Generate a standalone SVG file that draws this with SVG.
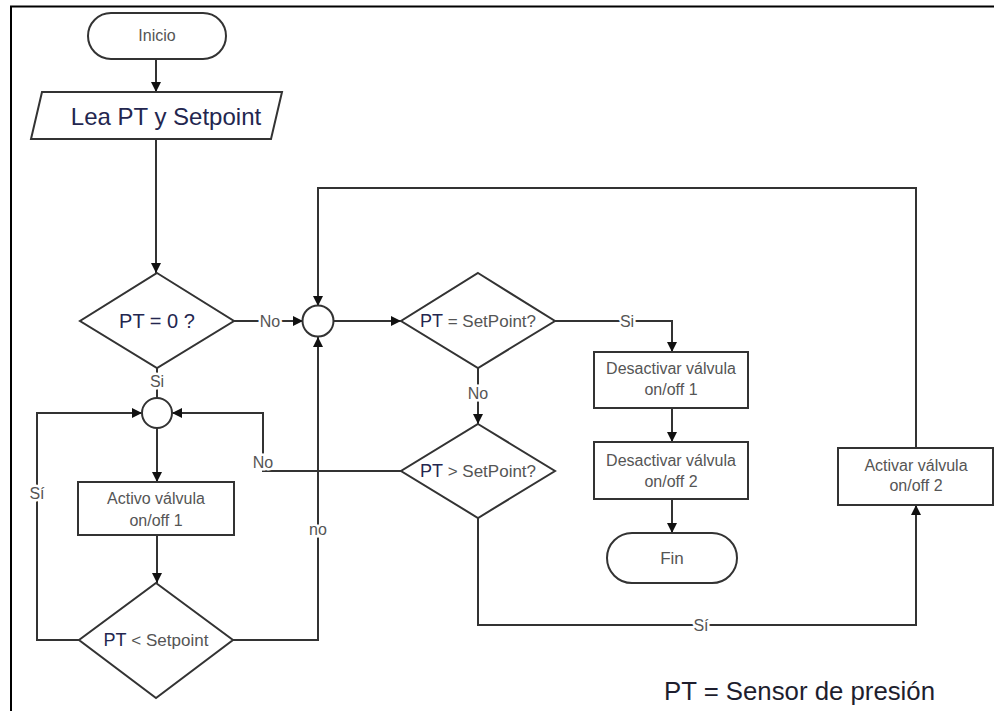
<svg xmlns="http://www.w3.org/2000/svg" width="994" height="711" viewBox="0 0 994 711">
  <style>
    .shape { fill: #ffffff; stroke: #333333; stroke-width: 2; }
    .line { fill: none; stroke: #333333; stroke-width: 2; }
    .txt { font-family: "Liberation Sans", Arial, sans-serif; fill: #555555; text-anchor: middle; }
    .dark { fill: #23264f; }
    .lbl { font-family: "Liberation Sans", Arial, sans-serif; fill: #555555; font-size: 16px; text-anchor: middle; stroke: #ffffff; stroke-width: 5; paint-order: stroke; }
    .frame { stroke: #000000; stroke-width: 2; fill: none; }
  </style>
  <defs>
    <marker id="arrow" viewBox="0 0 10 10" refX="10" refY="5" markerWidth="10" markerHeight="10" markerUnits="userSpaceOnUse" orient="auto">
      <path d="M0,0 L10,5 L0,10 z" fill="#111111"/>
    </marker>
  </defs>

  <rect width="994" height="711" fill="#ffffff"/>
  <!-- page frame -->
  <path class="frame" d="M11,711 V6.5 H994"/>

  <!-- connectors -->
  <g id="connectors">
    <path class="line" d="M156,59 V92" marker-end="url(#arrow)"/>
    <path class="line" d="M156,139 V273" marker-end="url(#arrow)"/>
    <path class="line" d="M233,321 H303" marker-end="url(#arrow)"/>
    <path class="line" d="M334,321 H401" marker-end="url(#arrow)"/>
    <path class="line" d="M554,321 H672 V352" marker-end="url(#arrow)"/>
    <path class="line" d="M478,368 V424" marker-end="url(#arrow)"/>
    <path class="line" d="M672,408 V442" marker-end="url(#arrow)"/>
    <path class="line" d="M672,499 V533" marker-end="url(#arrow)"/>
    <path class="line" d="M402,471 H263 V413 H172" marker-end="url(#arrow)"/>
    <path class="line" d="M478,518 V625 H916 V505" marker-end="url(#arrow)"/>
    <path class="line" d="M916,448 V188 H318 V306" marker-end="url(#arrow)"/>
    <path class="line" d="M157,368 V398"/>
    <path class="line" d="M157,428 V482" marker-end="url(#arrow)"/>
    <path class="line" d="M157,535 V583" marker-end="url(#arrow)"/>
    <path class="line" d="M79,640 H37 V413 H142" marker-end="url(#arrow)"/>
    <path class="line" d="M232,640 H318 V337" marker-end="url(#arrow)"/>

    <text class="lbl" x="270" y="327">No</text>
    <text class="lbl" x="627" y="327">Si</text>
    <text class="lbl" x="478" y="399">No</text>
    <text class="lbl" x="263" y="468">No</text>
    <text class="lbl" x="701" y="631">Sí</text>
    <text class="lbl" x="157" y="387">Si</text>
    <text class="lbl" x="37" y="499">Sí</text>
    <text class="lbl" x="318" y="535">no</text>
  </g>

  <g id="inicio">
    <rect class="shape" x="88" y="13" width="138" height="46" rx="23"/>
    <text class="txt" x="157" y="41" font-size="16">Inicio</text>
  </g>

  <g id="lea">
    <polygon class="shape" points="42,92 282,92 271,139 31,139"/>
    <text class="txt dark" x="166" y="125" font-size="24">Lea PT y Setpoint</text>
  </g>

  <g id="pt-cero">
    <polygon class="shape" points="157,273 234,321 157,368 80,321"/>
    <text class="txt dark" x="157" y="328" font-size="20">PT = 0 ?</text>
  </g>

  <g id="union-1">
    <circle class="shape" cx="318" cy="321" r="15.5"/>
  </g>

  <g id="union-2">
    <circle class="shape" cx="157" cy="413" r="15"/>
  </g>

  <g id="pt-igual">
    <polygon class="shape" points="478,273 555,321 478,368 401,321"/>
    <text class="txt" x="478" y="327" font-size="17"><tspan class="dark" font-size="18">PT</tspan> = SetPoint?</text>
  </g>

  <g id="pt-mayor">
    <polygon class="shape" points="478,424 555,471 478,518 401,471"/>
    <text class="txt" x="478" y="477" font-size="17"><tspan class="dark" font-size="18">PT</tspan> &gt; SetPoint?</text>
  </g>

  <g id="desactivar-1">
    <rect class="shape" x="594" y="352" width="154" height="56"/>
    <text class="txt" x="671" y="374" font-size="16">Desactivar válvula</text>
    <text class="txt" x="671" y="395" font-size="16">on/off 1</text>
  </g>

  <g id="desactivar-2">
    <rect class="shape" x="594" y="442" width="154" height="57"/>
    <text class="txt" x="671" y="466" font-size="16">Desactivar válvula</text>
    <text class="txt" x="671" y="487" font-size="16">on/off 2</text>
  </g>

  <g id="fin">
    <rect class="shape" x="607" y="533" width="130" height="50" rx="25"/>
    <text class="txt" x="672" y="564" font-size="17">Fin</text>
  </g>

  <g id="activar-2">
    <rect class="shape" x="838" y="448" width="155" height="57"/>
    <text class="txt" x="916" y="471" font-size="16">Activar válvula</text>
    <text class="txt" x="916" y="491" font-size="16">on/off 2</text>
  </g>

  <g id="activo-1">
    <rect class="shape" x="78" y="482" width="156" height="53"/>
    <text class="txt" x="156" y="504" font-size="16">Activo válvula</text>
    <text class="txt" x="156" y="526" font-size="16">on/off 1</text>
  </g>

  <g id="pt-menor">
    <polygon class="shape" points="156,583 233,640 156,698 79,640"/>
    <text class="txt" x="156" y="646" font-size="17"><tspan class="dark" font-size="18">PT</tspan> &lt; Setpoint</text>
  </g>

  <g id="leyenda">
    <text x="664" y="700" font-family="Liberation Sans, Arial, sans-serif" font-size="25" fill="#1e1e2e" textLength="271" lengthAdjust="spacingAndGlyphs">PT = Sensor de presión</text>
  </g>
</svg>
